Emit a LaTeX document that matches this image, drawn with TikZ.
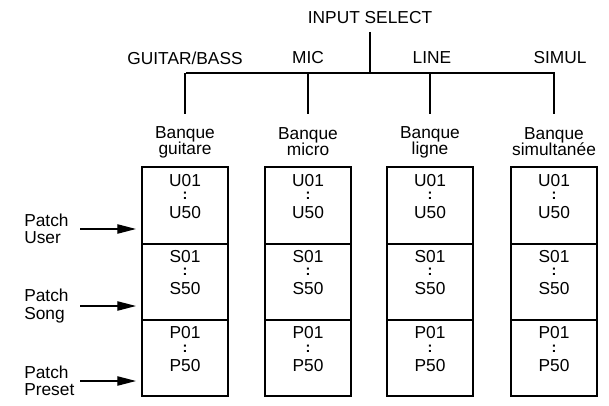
\documentclass[tikz,border=0pt]{standalone}
\usepackage{fontspec}
\setmainfont{Liberation Sans}
\usetikzlibrary{arrows.meta}
\begin{document}
\begin{tikzpicture}[x=0.75pt,y=-0.75pt,
  lbl/.style={font=\fontsize{13}{13}\selectfont, inner sep=0pt, align=center},
  dots/.style={font=\fontsize{11}{11}\selectfont\bfseries, inner sep=0pt, text height=4pt, text depth=0pt},
  bank/.style={draw, line width=0.9pt},
  ln/.style={line width=1pt},
  arr/.style={line width=0.9pt,-{Triangle[length=14pt,width=7pt]}}]
\useasboundingbox (0,0) rectangle (609,406);
\node[lbl] (title) at (370,18) {INPUT SELECT};
\coordinate (hub) at (370,73);
\draw[ln] (370,32) -- (hub);
\draw[ln] (186,73) -- (555,73);
\node[lbl] (gb) at (185,58) {GUITAR/BASS};
\foreach \x/\t in {308/MIC,432/LINE,560/SIMUL}
  \node[lbl] at (\x,58) {\t};
\foreach \x/\n/\b in {185/a/guitare,308/b/micro,430/c/ligne,554/d/simultanée}{
  \draw[ln] (\x,73) -- (\x,114);
  \node[lbl] (h\n) at (\x,142) {Banque\\[-1pt]\b};
}
\foreach \x/\n in {185/a,308/b,430/c,554/d}{
  \draw[bank] (\x-43,167) rectangle (\x+43,396);
  \draw[bank] (\x-43,244) -- (\x+43,244);
  \draw[bank] (\x-43,320) -- (\x+43,320);
  \node[lbl] (u1\n) at (\x,181) {U01};
  \node[dots] at (\x,197) {:};
  \node[lbl] (u5\n) at (\x,213) {U50};
  \node[lbl] (s1\n) at (\x,257) {S01};
  \node[dots] at (\x,273) {:};
  \node[lbl] (s5\n) at (\x,289) {S50};
  \node[lbl] (p1\n) at (\x,333) {P01};
  \node[dots] at (\x,350) {:};
  \node[lbl] (p5\n) at (\x,366) {P50};
}
\node[lbl, align=left, anchor=west] (pu) at (24,229) {Patch\\User};
\node[lbl, align=left, anchor=west] (ps) at (24,306) {Patch\\Song};
\node[lbl, align=left, anchor=west] (pp) at (24,381) {Patch\\Preset};
\coordinate (tu) at (136,229);
\coordinate (ts) at (136,306);
\coordinate (tp) at (136,381);
\draw[arr] (80,229) -- (tu);
\draw[arr] (80,306) -- (ts);
\draw[arr] (80,381) -- (tp);
\end{tikzpicture}
\end{document}
